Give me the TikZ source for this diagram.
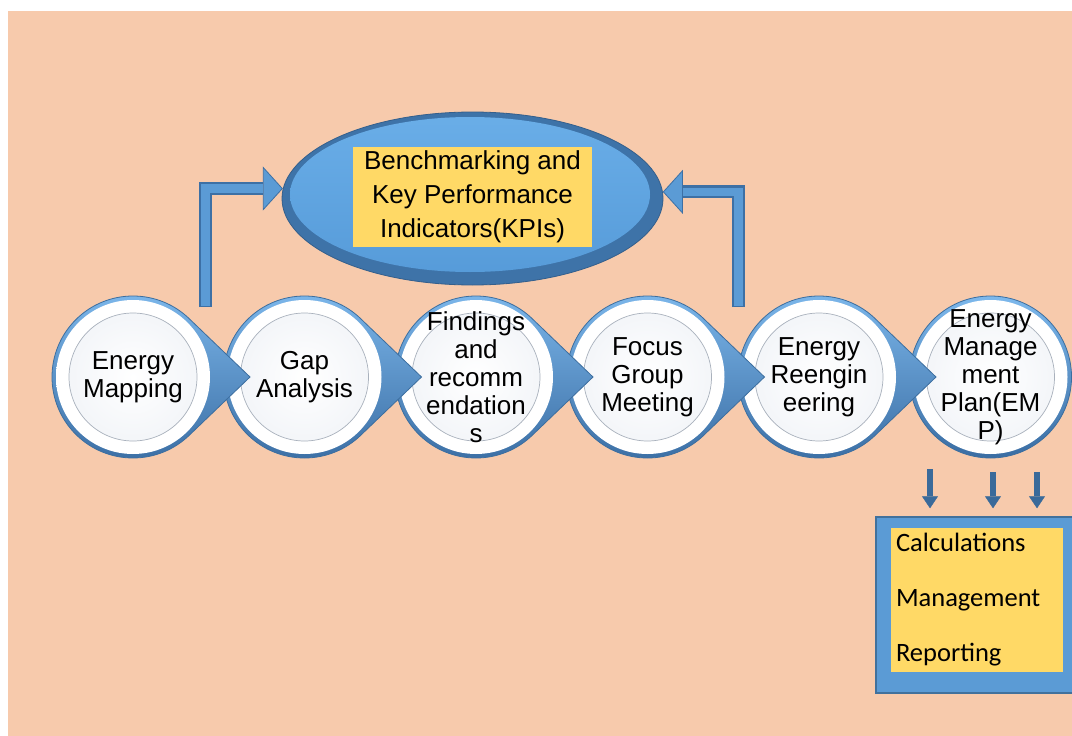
\documentclass[tikz,border=0pt]{standalone}
\usepackage{fontspec}
\setmainfont{Liberation Sans}
\newfontfamily\calfont{Carlito}
\usetikzlibrary{shapes.geometric,arrows.meta,calc}

\definecolor{peach}{HTML}{F7CAAC}
\definecolor{tearlight}{HTML}{7DB8EC}
\definecolor{teardark}{HTML}{3A6DA3}
\definecolor{tearedge}{HTML}{3C6E9F}
\definecolor{ringmid}{HTML}{E4E8EE}
\definecolor{ringgrey}{HTML}{A3AEBC}
\definecolor{ringouter}{HTML}{D3D9E2}
\definecolor{ringline}{HTML}{A9B1BC}
\definecolor{diskedge}{HTML}{E3E8F0}
\definecolor{kpirim}{HTML}{3E73A8}
\definecolor{kpiedge}{HTML}{345F8C}
\definecolor{kpitop}{HTML}{6AAEE8}
\definecolor{kpibottom}{HTML}{559AD8}
\definecolor{arrowface}{HTML}{5B9BD5}
\definecolor{arrowedge}{HTML}{3D70A5}
\definecolor{downblue}{HTML}{3A6A9A}
\definecolor{boxblue}{HTML}{5B9BD5}
\definecolor{boxedge}{HTML}{41719C}
\definecolor{boxyellow}{HTML}{FFD966}

\pgfdeclareradialshading{ringshade}{\pgfpoint{-5bp}{5bp}}{color(0bp)=(white); color(40bp)=(white); color(44bp)=(ringmid); color(48bp)=(ringgrey); color(50bp)=(ringouter)}
\pgfdeclareradialshading{diskshade}{\pgfpoint{0bp}{0bp}}{color(0bp)=(white); color(50bp)=(diskedge)}

\begin{document}
\begin{tikzpicture}[x=1pt,y=-1pt]
	\def \rowht{377}
	\def \kpiht{198.5}
	\def \tipgap{117}
	\def \tearrad{81}
	\tikzstyle{t-shape}=[top color=tearlight,bottom color=teardark,draw=tearedge,line width=0.8pt]
	\tikzstyle{s-node}=[circle,inner sep=-35pt,minimum size=154pt,shade,shading=ringshade,align=center,font=\fontsize{26}{28}\selectfont,
		path picture={\shadedraw[shading=diskshade,draw=ringline,line width=0.7pt] (path picture bounding box.center) circle (64);}]
	\tikzstyle{k-node}=[ellipse,inner sep=0pt,minimum width=381pt,minimum height=173pt,fill=kpirim,draw=kpiedge,line width=0.8pt,
		path picture={\shade[top color=kpitop,bottom color=kpibottom] ([xshift=-2.5pt,yshift=4pt]path picture bounding box.center) ellipse [x radius=180, y radius=77.5];}]
	\tikzstyle{y-box}=[rectangle,fill=boxyellow,inner sep=0pt,minimum width=239pt,minimum height=100pt,align=center,font=\fontsize{26}{34}\selectfont]
	\tikzstyle{k-arrow}=[line width=13pt,draw=arrowedge,-{Triangle[width=44pt,length=20pt,line width=0.8pt,color=arrowedge,fill=arrowface]}]
	\tikzstyle{k-glow}=[line width=8.5pt,draw=arrowface,shorten >=20pt,shorten <=1pt]
	\tikzstyle{d-arrow}=[line width=6.5pt,draw=downblue,-{Triangle[width=16pt,length=12pt,line width=0.4pt]},shorten >=8pt]
	\tikzstyle{e-box}=[rectangle,fill=boxblue,draw=boxedge,line width=1.5pt,inner sep=0pt,minimum width=202pt,minimum height=176pt]
	\tikzstyle{e-text}=[rectangle,fill=boxyellow,inner xsep=5pt,inner ysep=0pt,text width=162pt,minimum height=144pt,align=left,font=\calfont\fontsize{26.5}{55}\selectfont]

	% page and background
	\useasboundingbox (0,0) rectangle (1072,736);
	\clip (0,0) rectangle (1072,736);
	\fill[white] (0,0) rectangle (1072,736);
	\fill[peach] (8,11) rectangle (1072,736);

	% step centres
	\coordinate (c1) at (133,\rowht);
	\coordinate (c2) at (304.5,\rowht);
	\coordinate (c3) at (476,\rowht);
	\coordinate (c4) at (647.5,\rowht);
	\coordinate (c5) at (819,\rowht);
	\coordinate (c6) at (990.5,\rowht);

	% steps, right to left so that each tip lies over the next step
	\path[t-shape] (c6) circle (\tearrad);
	\node[s-node] 	(s6)	at (c6)		{Energy\\Manage\\ment\\Plan(EM\\P)};
	\path[t-shape] ($(c5)+(\tipgap,0)$) -- ($(c5)+(45:\tearrad)$) arc[start angle=45,end angle=315,radius=\tearrad] -- cycle;
	\node[s-node] 	(s5)	at (c5)		{Energy\\Reengin\\eering};
	\path[t-shape] ($(c4)+(\tipgap,0)$) -- ($(c4)+(45:\tearrad)$) arc[start angle=45,end angle=315,radius=\tearrad] -- cycle;
	\node[s-node] 	(s4)	at (c4)		{Focus\\Group\\Meeting};
	\path[t-shape] ($(c3)+(\tipgap,0)$) -- ($(c3)+(45:\tearrad)$) arc[start angle=45,end angle=315,radius=\tearrad] -- cycle;
	\node[s-node] 	(s3)	at (c3)		{Findings\\and\\recomm\\endation\\s};
	\path[t-shape] ($(c2)+(\tipgap,0)$) -- ($(c2)+(45:\tearrad)$) arc[start angle=45,end angle=315,radius=\tearrad] -- cycle;
	\node[s-node] 	(s2)	at (c2)		{Gap\\Analysis};
	\path[t-shape] ($(c1)+(\tipgap,0)$) -- ($(c1)+(45:\tearrad)$) arc[start angle=45,end angle=315,radius=\tearrad] -- cycle;
	\node[s-node] 	(s1)	at (c1)		{Energy\\Mapping};

	% benchmarking
	\node[k-node] 	(kpi)		at (472.5,\kpiht)	{};
	\node[y-box] 	(kpitext)	at (472.5,197)		{Benchmarking and\\Key Performance\\Indicators(KPIs)};

	% feedback arrows
	\coordinate (lfoot) at (205.5,307);
	\coordinate (rfoot) at (738.5,307);
	\draw[k-arrow] (lfoot) |- (kpi.177);
	\draw[k-glow]  (lfoot) |- (kpi.177);
	\draw[k-arrow] (rfoot) |- (kpi.2);
	\draw[k-glow]  (rfoot) |- (kpi.2);

	% plan outputs
	\node[e-box] 	(empbox)	at (977,605)	{};
	\node[e-text] 	(emptext)	at (977,600)	{Calculations\\Management\\Reporting};
	\coordinate (d1) at (930,469);
	\coordinate (d2) at (993,472);
	\coordinate (d3) at (1037,472);
	\draw[d-arrow] (d1) -- (d1 |- empbox.north);
	\draw[d-arrow] (d2) -- (d2 |- empbox.north);
	\draw[d-arrow] (d3) -- (d3 |- empbox.north);
\end{tikzpicture}
\end{document}
